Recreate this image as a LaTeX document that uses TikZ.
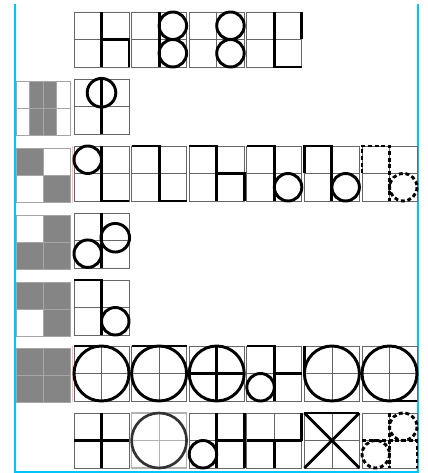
\documentclass[tikz,border=0pt]{standalone}
\tikzset{
  gridline/.style={draw=black!60, line width=0.6pt},
  thickline/.style={line width=2.2pt, line join=miter},
  dashline/.style={line width=2.2pt, dash pattern=on 3pt off 2pt},
  cellgray/.style={fill=black!48},
  tile/.style 2 args={shift={(#1,#2)}, x=20.625pt, y=-20.625pt},
  graytile/.style 2 args={shift={(#1,#2)}, x=20.25pt, y=-20.25pt},
}
\definecolor{framecyan}{RGB}{0,196,250}
\newcommand{\tilegrid}{\draw[gridline] (0,0) rectangle (2,2) (1,0) -- (1,2) (0,1) -- (2,1);}
\newcommand{\graycell}[2]{\fill[cellgray] (#1,#2) rectangle ++(1,1);}
\begin{document}
\begin{tikzpicture}[x=0.75pt, y=-0.75pt]
\useasboundingbox (0,0) rectangle (427,473);

% frame
\draw[framecyan, line width=1.5pt] (15,4) -- (15,472) -- (418,472) -- (418,4);
\draw[red!25, line width=0.5pt] (72,146) -- (72,203);
\draw[red!25, line width=0.5pt] (72,346) -- (72,402);

% row 1
\begin{scope}[tile={74}{12}]
\tilegrid
\draw[thickline] (1,0) -- (1,2);
\draw[thickline] (1,1) -- (2,1) -- (2,2);
\end{scope}
\begin{scope}[tile={131.6}{12}]
\tilegrid
\draw[thickline] (1,0) -- (1,2);
\draw[thickline] (1.5,0.5) circle[radius=0.5] (1.5,1.5) circle[radius=0.5];
\end{scope}
\begin{scope}[tile={189.2}{12}]
\tilegrid
\draw[thickline] (1.5,0.5) circle[radius=0.5] (1.5,1.5) circle[radius=0.5];
\end{scope}
\begin{scope}[tile={246.8}{12}]
\tilegrid
\draw[thickline] (1,0) -- (1,2) -- (2,2);
\draw[thickline] (2,0) -- (2,1);
\end{scope}

% row 2
\begin{scope}[graytile={16}{81}]
\fill[cellgray] (0.5,0) rectangle (1.5,2);
\draw[gridline, draw=black!35] (0,0) rectangle (2,2) (1,0) -- (1,2) (0,1) -- (2,1) (0.5,0) -- (0.5,2) (1.5,0) -- (1.5,2);
\end{scope}
\begin{scope}[tile={74}{79}]
\tilegrid
\draw[thickline] (1,0) -- (1,2);
\draw[thickline] (1,0.5) circle[radius=0.52];
\end{scope}

% row 3
\begin{scope}[graytile={16}{148}]
\graycell{0}{0}
\graycell{1}{1}
\draw[gridline, draw=black!35] (0,0) rectangle (2,2) (1,0) -- (1,2) (0,1) -- (2,1);
\end{scope}
\begin{scope}[tile={74}{146}]
\tilegrid
\draw[thickline] (0.5,0.5) circle[radius=0.5];
\draw[thickline] (1,0) -- (1,2) -- (2,2);
\end{scope}
\begin{scope}[tile={131.6}{146}]
\tilegrid
\draw[thickline] (0,0) -- (1,0) -- (1,2) -- (2,2);
\end{scope}
\begin{scope}[tile={189.2}{146}]
\tilegrid
\draw[thickline] (0,0) -- (1,0) -- (1,2);
\draw[thickline] (1,1) -- (2,1) -- (2,2);
\end{scope}
\begin{scope}[tile={246.8}{146}]
\tilegrid
\draw[thickline] (0,0) -- (1,0) -- (1,2);
\draw[thickline] (1.5,1.5) circle[radius=0.5];
\end{scope}
\begin{scope}[tile={304.4}{146}]
\tilegrid
\draw[thickline] (0,1) -- (0,0) -- (1,0) -- (1,2);
\draw[thickline] (1.5,1.5) circle[radius=0.5];
\end{scope}
\begin{scope}[tile={362}{146}]
\tilegrid
\draw[dashline] (0,1) -- (0,0) -- (1,0) -- (1,2);
\draw[dashline] (1.5,1.5) circle[radius=0.5];
\end{scope}

% row 4
\begin{scope}[graytile={16}{215}]
\graycell{1}{0}
\graycell{0}{1}
\graycell{1}{1}
\draw[gridline, draw=black!35] (0,0) rectangle (2,2) (1,0) -- (1,2) (0,1) -- (2,1);
\end{scope}
\begin{scope}[tile={74}{213}]
\tilegrid
\draw[thickline] (1,0) -- (1,2);
\draw[thickline] (0.5,1.48) circle[radius=0.5] (1.5,0.9) circle[radius=0.52];
\end{scope}

% row 5
\begin{scope}[graytile={16}{282}]
\graycell{0}{0}
\graycell{1}{0}
\graycell{1}{1}
\draw[gridline, draw=black!35] (0,0) rectangle (2,2) (1,0) -- (1,2) (0,1) -- (2,1);
\end{scope}
\begin{scope}[tile={74}{280}]
\tilegrid
\draw[thickline] (0,0) -- (1,0) -- (1,2);
\draw[thickline] (1.5,1.5) circle[radius=0.5];
\end{scope}

% row 6
\begin{scope}[graytile={16}{348}]
\graycell{0}{0}
\graycell{1}{0}
\graycell{0}{1}
\graycell{1}{1}
\draw[gridline, draw=black!35] (0,0) rectangle (2,2) (1,0) -- (1,2) (0,1) -- (2,1);
\end{scope}
\begin{scope}[tile={74}{346}]
\tilegrid
\draw[thickline] (1,1) circle[radius=1];
\draw[thickline] (0,0) -- (1,0);
\end{scope}
\begin{scope}[tile={131.6}{346}]
\tilegrid
\draw[thickline] (1,1) circle[radius=1];
\draw[thickline] (0,0) -- (2,0);
\end{scope}
\begin{scope}[tile={189.2}{346}]
\tilegrid
\draw[thickline] (1,1) circle[radius=1];
\draw[thickline] (0,1) -- (2,1) (1,0) -- (1,2);
\end{scope}
\begin{scope}[tile={246.8}{346}]
\tilegrid
\draw[thickline] (0,0) -- (1,0) -- (1,2);
\draw[thickline] (1,1) -- (2,1);
\draw[thickline] (0.5,1.5) circle[radius=0.5];
\end{scope}
\begin{scope}[tile={304.4}{346}]
\tilegrid
\draw[thickline] (1,1) circle[radius=1];
\draw[thickline] (0,0) -- (0,1);
\end{scope}
\begin{scope}[tile={362}{346}]
\tilegrid
\draw[thickline] (1,1) circle[radius=1];
\draw[thickline] (1,2) -- (2,2);
\end{scope}

% row 7
\begin{scope}[tile={74}{413}]
\tilegrid
\draw[thickline] (1,0) -- (1,2) (0,1) -- (2,1);
\end{scope}
\begin{scope}[tile={131.6}{413}]
\draw[gridline, draw=black!30, line width=0.9pt] (0,0) rectangle (2,2) (1,0) -- (1,2) (0,1) -- (2,1);
\draw[thickline, black!80, line width=2pt] (1,1) circle[radius=1];
\end{scope}
\begin{scope}[tile={189.2}{413}]
\tilegrid
\draw[thickline] (1,0) -- (1,2);
\draw[thickline] (1,1) -- (2,1);
\draw[thickline] (2,0) -- (2,2);
\draw[thickline] (0.5,1.5) circle[radius=0.5];
\end{scope}
\begin{scope}[tile={246.8}{413}]
\tilegrid
\draw[thickline] (0,1) -- (2,1);
\draw[thickline] (1,1) -- (1,2);
\draw[thickline] (2,0) -- (2,1);
\end{scope}
\begin{scope}[tile={304.4}{413}]
\tilegrid
\draw[thickline] (0,0) -- (2,0);
\draw[thickline] (0,0) -- (2,2) (2,0) -- (0,2);
\end{scope}
\begin{scope}[tile={362}{413}]
\tilegrid
\draw[dashline] (1.5,0.5) circle[radius=0.5] (0.5,1.5) circle[radius=0.5];
\draw[dashline] (1,0) -- (1,2) (0,1) -- (2,1) -- (2,2);
\end{scope}
\end{tikzpicture}
\end{document}
